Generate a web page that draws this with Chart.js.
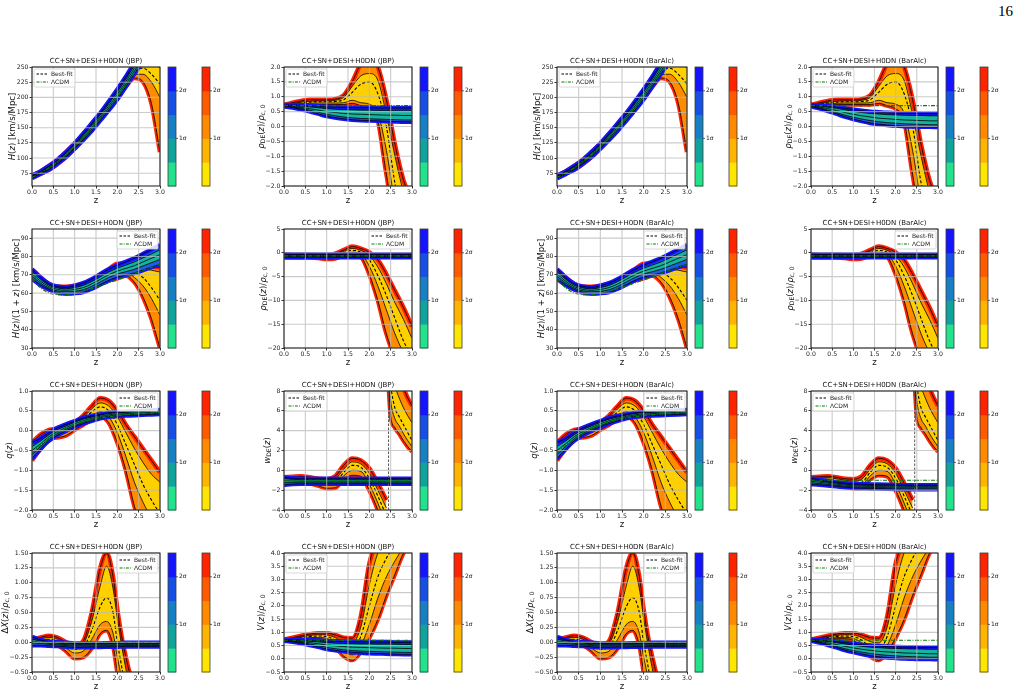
<!DOCTYPE html>
<html>
<head>
<meta charset="utf-8">
<title>Reconstruction panels</title>
<script src="https://cdn.jsdelivr.net/npm/chart.js@4.4.1/dist/chart.umd.min.js"></script>
<style>
  html, body { margin: 0; padding: 0; background: #fff; }
  #page { position: relative; width: 1021px; height: 697px; overflow: hidden; background: #fff; }
  #pnum { position: absolute; right: 8px; top: 3px; font: 15px 'Liberation Serif', 'DejaVu Serif', serif; color: #000; }
  #page canvas { position: absolute; }
</style>
</head>
<body>
<div id="page"><div id="pnum">16</div></div>
<script>
// ---------- redshift grids ----------
const zGrid = [0, 0.2, 0.4, 0.6, 0.8, 1.0, 1.2, 1.4, 1.6, 1.8, 2.0, 2.2, 2.4, 2.6, 2.8, 3.0];
const zLow = [0, 0.2, 0.4, 0.6, 0.8, 1.0, 1.2, 1.4, 1.6, 1.8, 2.0, 2.2, 2.4];
const zHigh = [2.46, 2.5, 2.6, 2.7, 2.8, 2.9, 3.0];
const zDx = [0, 0.2, 0.4, 0.6, 0.8, 1.0, 1.2, 1.4, 1.6, 1.75, 1.9, 2.0, 2.1, 2.2, 2.3, 2.4];
const zPole = [2.45, 2.45];
const wPoleY = [-4, 8];

// ---------- tick labels ----------
const xTicks = [0, 0.5, 1, 1.5, 2, 2.5, 3];
const hTicks = [75, 100, 125, 150, 175, 200, 225, 250];
const rhoTicks = [-2, -1.5, -1, -0.5, 0, 0.5, 1, 1.5, 2];
const hzTicks = [30, 40, 50, 60, 70, 80, 90];
const rho2Ticks = [-20, -15, -10, -5, 0, 5];
const qTicks = [-2, -1.5, -1, -0.5, 0, 0.5, 1];
const wTicks = [-4, -2, 0, 2, 4, 6, 8];
const dxTicks = [-0.5, -0.25, 0, 0.25, 0.5, 0.75, 1, 1.25, 1.5];
const vTicks = [-0.5, 0, 0.5, 1, 1.5, 2, 2.5, 3, 3.5, 4];

// ---------- H(z) ----------
const hBlueHi2 = [71, 78, 87, 97, 110, 124, 140, 157, 174, 193, 213, 234, 257, 280, 302, 327];
const hBlueHi1 = [70, 77, 85.5, 95.5, 108, 122, 137.5, 154, 171, 189.5, 209, 230, 252.5, 275, 297, 321];
const hBlueMid = [69, 76, 84, 94, 106, 120, 135, 151, 168, 186, 205, 226, 248, 270, 292, 315];
const hBlueLo1 = [68, 75, 82.5, 92.5, 104, 118, 132.5, 148, 165, 182.5, 201, 222, 243.5, 265, 287, 309];
const hBlueLo2 = [67, 74, 81, 91, 102, 116, 130, 145, 162, 179, 197, 218, 239, 260, 282, 303];
const hOrHi2 = [71, 78, 87, 97.5, 110, 124, 139, 155, 172, 191, 211, 232, 253, 262, 265, 265];
const hOrHi1 = [70, 77, 85.5, 96, 108, 122, 137, 153, 170, 188.5, 208, 229, 248, 254, 252, 250];
const hOrMid = [69, 76, 84, 94, 106, 120, 135, 151, 168, 186, 205, 226, 244, 248, 238, 222];
const hOrLo1 = [68, 75, 82.5, 92, 104, 118, 133, 149, 166, 183.5, 202, 222, 238, 238, 225, 200];
const hOrLo2 = [67, 74, 81, 90.5, 102, 116, 131, 147, 164, 181, 199, 218, 232, 226, 190, 110];
const hLcdm = [68, 75.1, 83.9, 94.4, 106.4, 119.7, 134.2, 149.7, 166.2, 183.6, 201.7, 220.7, 240.3, 260.7, 281.7, 303.3];

// ---------- rho_DE (top row) ----------
const rhoBlueHi2 = [0.72, 0.72, 0.71, 0.7, 0.68, 0.66, 0.65, 0.64, 0.63, 0.63, 0.63, 0.62, 0.62, 0.62, 0.62, 0.62];
const rhoBlueHi1 = [0.71, 0.7, 0.68, 0.66, 0.63, 0.6, 0.58, 0.57, 0.56, 0.55, 0.55, 0.54, 0.54, 0.53, 0.53, 0.53];
const rhoBlueMid = [0.7, 0.68, 0.64, 0.6, 0.55, 0.5, 0.47, 0.44, 0.42, 0.41, 0.4, 0.39, 0.38, 0.38, 0.37, 0.37];
const rhoBlueLo1 = [0.69, 0.66, 0.61, 0.55, 0.48, 0.41, 0.36, 0.32, 0.29, 0.27, 0.26, 0.25, 0.24, 0.23, 0.22, 0.22];
const rhoBlueLo2 = [0.68, 0.64, 0.58, 0.51, 0.43, 0.35, 0.3, 0.26, 0.23, 0.21, 0.2, 0.19, 0.18, 0.17, 0.16, 0.16];
const rhoBBlueHi2 = [0.72, 0.71, 0.68, 0.65, 0.61, 0.57, 0.53, 0.5, 0.48, 0.46, 0.45, 0.44, 0.44, 0.43, 0.43, 0.43];
const rhoBBlueHi1 = [0.71, 0.69, 0.65, 0.61, 0.56, 0.51, 0.47, 0.44, 0.42, 0.4, 0.39, 0.38, 0.37, 0.37, 0.36, 0.36];
const rhoBBlueMid = [0.7, 0.66, 0.6, 0.54, 0.47, 0.41, 0.36, 0.32, 0.28, 0.26, 0.24, 0.22, 0.21, 0.2, 0.19, 0.19];
const rhoBBlueLo1 = [0.69, 0.63, 0.55, 0.47, 0.38, 0.31, 0.25, 0.2, 0.16, 0.13, 0.11, 0.09, 0.08, 0.07, 0.06, 0.06];
const rhoBBlueLo2 = [0.68, 0.61, 0.52, 0.43, 0.33, 0.25, 0.18, 0.12, 0.08, 0.05, 0.03, 0.01, 0, -0.01, -0.01, -0.02];
const rhoOrHi2 = [0.72, 0.8, 0.86, 0.9, 0.9, 0.9, 0.92, 1.05, 1.5, 2.1, 2.3, 2.0, 0.9, -0.6, -1.8, -2.5];
const rhoOrHi1 = [0.71, 0.77, 0.82, 0.85, 0.86, 0.86, 0.88, 0.98, 1.35, 1.7, 1.78, 1.55, 0.4, -1.0, -2.2, -3];
const rhoOrMid = [0.7, 0.75, 0.79, 0.82, 0.83, 0.83, 0.84, 0.9, 1.15, 1.42, 1.5, 1.1, 0.0, -1.9, -3, -3];
const rhoOrLo1 = [0.69, 0.73, 0.76, 0.78, 0.79, 0.79, 0.79, 0.8, 0.88, 0.8, 0.75, 0.45, -0.8, -2.5, -3, -3];
const rhoOrLo2 = [0.68, 0.71, 0.73, 0.74, 0.74, 0.74, 0.74, 0.74, 0.78, 0.7, 0.6, 0.2, -1.6, -3, -3, -3];
const rhoLcdm = [0.7, 0.7, 0.7, 0.7, 0.7, 0.7, 0.7, 0.7, 0.7, 0.7, 0.7, 0.7, 0.7, 0.7, 0.7, 0.7];

// ---------- H(z)/(1+z) ----------
const hzBlueHi2 = [73, 68.5, 65, 63.6, 63.1, 64, 65.4, 67.6, 70.3, 73, 75.2, 77.1, 79, 81.4, 83.8, 86.2];
const hzBlueHi1 = [71.7, 67.5, 64.3, 62.8, 62.3, 63, 64.2, 66.3, 68.9, 71.5, 73.6, 75.3, 77, 79.2, 81.4, 83.6];
const hzBlueMid = [70.5, 66.5, 63.5, 62, 61.5, 62, 63, 65, 67.5, 70, 72, 73.5, 75, 77, 79, 81];
const hzBlueLo1 = [69.3, 65.5, 62.7, 61.2, 60.7, 61, 61.8, 63.7, 66.1, 68.5, 70.4, 71.7, 73, 74.8, 76.6, 78.4];
const hzBlueLo2 = [68, 64.5, 62, 60.4, 59.9, 60, 60.6, 62.4, 64.7, 67, 68.8, 69.9, 71, 72.6, 74.2, 75.8];
const hzOrHi2 = [73, 68.5, 65, 63.5, 63.5, 64, 65, 67, 70, 73, 76, 76, 75.5, 75, 74.5, 74];
const hzOrHi1 = [72, 67.5, 64.3, 62.8, 62.5, 63, 64, 66, 68.8, 71.5, 74, 74.8, 73.8, 73.2, 72.5, 71.5];
const hzOrMid = [70.5, 66.5, 63.5, 62, 61.5, 62, 63, 65, 67.5, 70, 72, 73, 71.5, 68.5, 63, 56];
const hzOrLo1 = [69, 65.5, 62.7, 61.2, 60.5, 61, 62, 64, 66.3, 68.5, 70, 71.5, 68.5, 64, 57, 48];
const hzOrLo2 = [68, 64.5, 62, 60.4, 59.7, 60, 61, 62.8, 65, 67, 68, 69.5, 66, 58, 46, 30];
const hzLcdm = [68, 62.6, 59.9, 59.0, 59.1, 59.9, 61, 62.4, 63.9, 65.6, 67.2, 68.9, 70.7, 72.5, 74.1, 75.8];

// ---------- rho_DE (second row) ----------
const rho2BlueHi2 = [-0.3, -0.35, -0.35, -0.35, -0.35, -0.35, -0.35, -0.35, -0.35, -0.35, -0.35, -0.35, -0.35, -0.35, -0.35, -0.35];
const rho2BlueHi1 = [-0.45, -0.5, -0.5, -0.5, -0.5, -0.5, -0.5, -0.5, -0.5, -0.5, -0.5, -0.5, -0.5, -0.5, -0.5, -0.5];
const rho2BlueMid = [-0.6, -0.65, -0.65, -0.65, -0.65, -0.65, -0.65, -0.65, -0.65, -0.65, -0.65, -0.65, -0.65, -0.65, -0.65, -0.65];
const rho2BlueLo1 = [-0.75, -0.8, -0.8, -0.8, -0.8, -0.8, -0.8, -0.8, -0.8, -0.8, -0.8, -0.8, -0.8, -0.8, -0.8, -0.8];
const rho2BlueLo2 = [-0.9, -0.95, -0.95, -0.95, -0.95, -0.95, -0.95, -0.95, -0.95, -0.95, -0.95, -0.95, -0.95, -0.95, -0.95, -0.95];
const rho2OrHi2 = [-0.4, -0.4, -0.4, -0.4, -0.5, -0.6, -0.2, 0.6, 1.3, 0.9, 0.1, -1.5, -4.5, -8, -11.5, -15.5];
const rho2OrHi1 = [-0.55, -0.55, -0.55, -0.55, -0.65, -0.8, -0.45, 0.3, 0.9, 0.5, -0.6, -3, -6.5, -10.5, -14, -18];
const rho2OrMid = [-0.7, -0.7, -0.7, -0.7, -0.8, -0.95, -0.7, 0, 0.5, 0.1, -1.5, -4.8, -9, -13.8, -18.5, -22];
const rho2OrLo1 = [-0.85, -0.85, -0.85, -0.85, -0.95, -1.1, -0.95, -0.3, 0.1, -0.3, -2.8, -7, -12, -17, -21, -24];
const rho2OrLo2 = [-1.0, -1.0, -1.0, -1.0, -1.1, -1.3, -1.2, -0.6, -0.3, -0.8, -4.5, -10, -17, -22, -25, -25];
const rho2Lcdm = [-0.65, -0.65, -0.65, -0.65, -0.65, -0.65, -0.65, -0.65, -0.65, -0.65, -0.65, -0.65, -0.65, -0.65, -0.65, -0.65];

// ---------- q(z) ----------
const qBlueHi2 = [-0.3, -0.2, -0.05, 0.07, 0.16, 0.24, 0.32, 0.37, 0.41, 0.45, 0.47, 0.48, 0.49, 0.5, 0.51, 0.52];
const qBlueHi1 = [-0.4, -0.26, -0.1, 0.03, 0.12, 0.21, 0.29, 0.34, 0.39, 0.43, 0.45, 0.46, 0.47, 0.48, 0.49, 0.5];
const qBlueMid = [-0.5, -0.33, -0.15, -0.02, 0.08, 0.17, 0.25, 0.31, 0.36, 0.4, 0.42, 0.43, 0.44, 0.45, 0.46, 0.47];
const qBlueLo1 = [-0.6, -0.4, -0.2, -0.07, 0.04, 0.13, 0.21, 0.28, 0.33, 0.37, 0.39, 0.4, 0.41, 0.42, 0.43, 0.44];
const qBlueLo2 = [-0.7, -0.46, -0.25, -0.11, 0.0, 0.1, 0.18, 0.25, 0.31, 0.35, 0.37, 0.38, 0.39, 0.4, 0.41, 0.42];
const qOrHi2 = [-0.3, -0.1, 0.02, 0.05, 0.08, 0.2, 0.38, 0.62, 0.82, 0.75, 0.5, 0.15, -0.15, -0.45, -0.75, -1.05];
const qOrHi1 = [-0.4, -0.17, -0.02, 0.0, 0.04, 0.17, 0.33, 0.55, 0.7, 0.62, 0.35, -0.05, -0.45, -0.8, -1.1, -1.3];
const qOrMid = [-0.5, -0.25, -0.07, -0.05, 0.0, 0.13, 0.28, 0.47, 0.6, 0.5, 0.15, -0.35, -0.85, -1.35, -1.75, -2.1];
const qOrLo1 = [-0.6, -0.33, -0.13, -0.1, -0.05, 0.08, 0.22, 0.38, 0.48, 0.35, -0.05, -0.65, -1.3, -1.8, -2.2, -2.5];
const qOrLo2 = [-0.75, -0.45, -0.2, -0.17, -0.12, 0.02, 0.15, 0.28, 0.35, 0.2, -0.3, -1.0, -1.9, -2.5, -2.8, -3];
const qLcdm = [-0.55, -0.37, -0.19, -0.04, 0.07, 0.16, 0.23, 0.28, 0.32, 0.35, 0.38, 0.40, 0.42, 0.43, 0.44, 0.45];

// ---------- w_DE(z) ----------
const wBlueHi2 = [-0.7, -0.8, -0.85, -0.85, -0.85, -0.85, -0.85, -0.85, -0.85, -0.85, -0.85, -0.85, -0.85, -0.85, -0.85, -0.85];
const wBlueHi1 = [-0.85, -0.92, -0.95, -0.95, -0.95, -0.95, -0.95, -0.95, -0.95, -0.95, -0.95, -0.95, -0.95, -0.95, -0.95, -0.95];
const wBlueMid = [-1.05, -1.08, -1.1, -1.1, -1.1, -1.1, -1.1, -1.1, -1.1, -1.1, -1.1, -1.1, -1.1, -1.1, -1.1, -1.1];
const wBlueLo1 = [-1.25, -1.24, -1.25, -1.25, -1.25, -1.25, -1.25, -1.25, -1.25, -1.25, -1.25, -1.25, -1.25, -1.25, -1.25, -1.25];
const wBlueLo2 = [-1.45, -1.38, -1.35, -1.35, -1.35, -1.35, -1.35, -1.35, -1.35, -1.35, -1.35, -1.35, -1.35, -1.35, -1.35, -1.35];
const wBBlueHi2 = [-0.8, -0.95, -1.1, -1.2, -1.3, -1.35, -1.4, -1.42, -1.44, -1.46, -1.48, -1.5, -1.5, -1.5, -1.5, -1.5];
const wBBlueHi1 = [-0.95, -1.07, -1.2, -1.3, -1.4, -1.45, -1.5, -1.52, -1.54, -1.56, -1.58, -1.6, -1.6, -1.6, -1.6, -1.6];
const wBBlueMid = [-1.1, -1.2, -1.3, -1.4, -1.5, -1.55, -1.6, -1.62, -1.64, -1.66, -1.68, -1.7, -1.7, -1.7, -1.7, -1.7];
const wBBlueLo1 = [-1.25, -1.33, -1.42, -1.5, -1.6, -1.66, -1.7, -1.72, -1.74, -1.76, -1.78, -1.8, -1.8, -1.8, -1.8, -1.8];
const wBBlueLo2 = [-1.4, -1.45, -1.52, -1.6, -1.7, -1.76, -1.8, -1.82, -1.84, -1.86, -1.88, -1.9, -1.9, -1.9, -1.9, -1.9];
const wOrLowHi2 = [-0.7, -0.65, -0.6, -0.7, -0.85, -0.9, -0.6, 0.5, 1.2, 1.0, 0.2, -1.3, -3.0];
const wOrLowHi1 = [-0.85, -0.8, -0.75, -0.85, -1.0, -1.1, -0.9, 0.1, 0.85, 0.65, -0.3, -2.0, -3.8];
const wOrLowMid = [-1.0, -0.95, -0.9, -1.0, -1.15, -1.3, -1.2, -0.2, 0.5, 0.3, -0.8, -2.6, -4.6];
const wOrLowLo1 = [-1.15, -1.1, -1.05, -1.15, -1.35, -1.5, -1.45, -0.55, 0.0, -0.1, -1.4, -3.3, -5.5];
const wOrLowLo2 = [-1.3, -1.25, -1.2, -1.3, -1.55, -1.8, -1.75, -0.9, -0.5, -0.6, -2.0, -4.0, -6.5];
const wOrHighHi2 = [12, 12, 11, 9.5, 8.3, 7.3, 6.5];
const wOrHighHi1 = [11, 10.5, 8.5, 7.3, 6.3, 5.5, 4.8];
const wOrHighMid = [10, 8.5, 6.3, 5.4, 4.6, 3.8, 3.0];
const wOrHighLo1 = [9, 7, 5.2, 4.5, 3.7, 3.0, 2.4];
const wOrHighLo2 = [8, 5.5, 4.3, 3.7, 3.0, 2.4, 1.9];
const wLcdm = [-1, -1, -1, -1, -1, -1, -1, -1, -1, -1, -1, -1, -1, -1, -1, -1];

// ---------- Delta X(z) ----------
const dxBlueHi2 = [0.09, 0.04, 0.01, 0.0, -0.01, -0.02, -0.02, -0.02, -0.02, -0.015, -0.015, -0.01, -0.01, -0.01, -0.01, -0.01];
const dxBlueHi1 = [0.05, 0.02, 0.0, -0.015, -0.025, -0.035, -0.035, -0.035, -0.035, -0.03, -0.03, -0.025, -0.025, -0.025, -0.025, -0.025];
const dxBlueMid = [0.02, 0.0, -0.02, -0.03, -0.04, -0.05, -0.05, -0.05, -0.05, -0.045, -0.045, -0.04, -0.04, -0.04, -0.04, -0.04];
const dxBlueLo1 = [-0.01, -0.02, -0.035, -0.045, -0.055, -0.065, -0.065, -0.065, -0.065, -0.06, -0.06, -0.055, -0.055, -0.055, -0.055, -0.055];
const dxBlueLo2 = [-0.05, -0.05, -0.06, -0.065, -0.075, -0.085, -0.085, -0.08, -0.08, -0.075, -0.075, -0.07, -0.07, -0.07, -0.07, -0.07];
const dxOrHi2 = [0.04, 0.08, 0.11, 0.08, 0.0, -0.05, 0.02, 0.5, 1.25, 1.5, 1.1, 0.55, 0.1, -0.25, -0.55, -0.8];
const dxOrHi1 = [0.02, 0.06, 0.08, 0.05, -0.03, -0.09, -0.03, 0.35, 0.95, 1.28, 0.9, 0.4, -0.05, -0.45, -0.8, -1.0];
const dxOrMid = [0.0, 0.03, 0.05, 0.03, -0.05, -0.12, -0.08, 0.2, 0.6, 0.75, 0.5, 0.0, -0.4, -0.8, -1.1, -1.3];
const dxOrLo1 = [-0.02, 0.0, 0.02, -0.01, -0.1, -0.18, -0.15, 0.05, 0.3, 0.35, 0.15, -0.25, -0.6, -1.0, -1.3, -1.5];
const dxOrLo2 = [-0.04, -0.03, -0.02, -0.05, -0.15, -0.27, -0.25, -0.1, 0.15, 0.2, -0.05, -0.5, -0.9, -1.2, -1.5, -1.7];
const dxLcdm = [0, 0, 0, 0, 0, 0, 0, 0, 0, 0, 0, 0, 0, 0, 0, 0];

// ---------- V(z) ----------
const vBlueHi2 = [0.72, 0.72, 0.71, 0.7, 0.69, 0.67, 0.66, 0.65, 0.64, 0.64, 0.63, 0.63, 0.63, 0.62, 0.62, 0.62];
const vBlueHi1 = [0.71, 0.7, 0.68, 0.66, 0.64, 0.61, 0.59, 0.58, 0.57, 0.56, 0.56, 0.55, 0.55, 0.55, 0.54, 0.54];
const vBlueMid = [0.7, 0.68, 0.65, 0.61, 0.57, 0.52, 0.49, 0.46, 0.44, 0.43, 0.42, 0.41, 0.4, 0.4, 0.39, 0.39];
const vBlueLo1 = [0.69, 0.66, 0.62, 0.56, 0.5, 0.43, 0.38, 0.34, 0.31, 0.29, 0.28, 0.27, 0.26, 0.25, 0.24, 0.24];
const vBlueLo2 = [0.68, 0.64, 0.59, 0.52, 0.45, 0.37, 0.32, 0.28, 0.25, 0.23, 0.21, 0.2, 0.19, 0.18, 0.17, 0.17];
const vOrHi2 = [0.72, 0.8, 0.87, 0.93, 0.97, 0.97, 0.9, 0.8, 0.78, 1.6, 3.6, 4.5, 5, 5, 5, 5];
const vOrHi1 = [0.71, 0.77, 0.83, 0.88, 0.91, 0.9, 0.8, 0.65, 0.6, 1.2, 2.8, 4.0, 4.5, 5, 5, 5];
const vOrMid = [0.7, 0.75, 0.8, 0.84, 0.86, 0.84, 0.7, 0.45, 0.35, 0.85, 2.0, 3.1, 3.8, 4.3, 4.6, 4.8];
const vOrLo1 = [0.69, 0.73, 0.77, 0.8, 0.81, 0.77, 0.6, 0.3, 0.15, 0.5, 1.3, 2.3, 3.1, 3.7, 4.2, 4.5];
const vOrLo2 = [0.68, 0.71, 0.74, 0.76, 0.76, 0.7, 0.45, 0.1, -0.05, 0.25, 0.8, 1.5, 2.4, 3.2, 4.0, 4.4];
const vLcdm = [0.7, 0.7, 0.7, 0.7, 0.7, 0.7, 0.7, 0.7, 0.7, 0.7, 0.7, 0.7, 0.7, 0.7, 0.7, 0.7];

// ---------- text ----------
const TITLE_JBP = 'CC+SN+DESI+H0DN (JBP)';
const TITLE_BA = 'CC+SN+DESI+H0DN (BarAlc)';
// [text, style]  style: i = italic, s = subscript
const LBL_H = [['H', 'i'], ['('], ['z', 'i'], [') [km/s/Mpc]']];
const LBL_RHO = [['ρ', 'i'], ['DE', 's'], ['('], ['z', 'i'], [')/'], ['ρ', 'i'], ['c, 0', 's']];
const LBL_HZ = [['H', 'i'], ['('], ['z', 'i'], [')/(1 + '], ['z', 'i'], [') [km/s/Mpc]']];
const LBL_Q = [['q', 'i'], ['('], ['z', 'i'], [')']];
const LBL_W = [['w', 'i'], ['DE', 's'], ['('], ['z', 'i'], [')']];
const LBL_DX = [['Δ'], ['X', 'i'], ['('], ['z', 'i'], [')/'], ['ρ', 'i'], ['c, 0', 's']];
const LBL_V = [['V', 'i'], ['('], ['z', 'i'], [')/'], ['ρ', 'i'], ['c, 0', 's']];

// ---------- layout (pixels) ----------
const PLOT_LEFT = [32, 284, 557, 811];
const PLOT_TOP = [67, 229, 391, 553];
const PLOT_W = [128, 128, 130, 127];
const PLOT_H = 119;
const AXW = 34, TOPH = 12, BOTH = 24, RIGHTW = 62;
const FONT = "'DejaVu Sans', sans-serif";

const ORANGE = { edge: '#ff2200', outer: '#ff8c00', inner: '#ffd000', dash: true };
const BLUE = { edge: '#1414ff', outer: '#1f5ee0', inner: '#14b5a0', dash: false };
const BLUE_STEPS = ['#22e38c', '#0fa39b', '#1780c4', '#164fe4', '#1414ff'];
const ORANGE_STEPS = ['#ffe600', '#ffb400', '#ff8a00', '#ff5a00', '#ff2400'];

const band = (z, hi2, hi1, mid, lo1, lo2) => ({ z, hi2, hi1, mid, lo1, lo2 });

const hOr = band(zGrid, hOrHi2, hOrHi1, hOrMid, hOrLo1, hOrLo2);
const hBlue = band(zGrid, hBlueHi2, hBlueHi1, hBlueMid, hBlueLo1, hBlueLo2);
const rhoOr = band(zGrid, rhoOrHi2, rhoOrHi1, rhoOrMid, rhoOrLo1, rhoOrLo2);
const rhoBlue = band(zGrid, rhoBlueHi2, rhoBlueHi1, rhoBlueMid, rhoBlueLo1, rhoBlueLo2);
const rhoBBlue = band(zGrid, rhoBBlueHi2, rhoBBlueHi1, rhoBBlueMid, rhoBBlueLo1, rhoBBlueLo2);
const hzOr = band(zGrid, hzOrHi2, hzOrHi1, hzOrMid, hzOrLo1, hzOrLo2);
const hzBlue = band(zGrid, hzBlueHi2, hzBlueHi1, hzBlueMid, hzBlueLo1, hzBlueLo2);
const rho2Or = band(zGrid, rho2OrHi2, rho2OrHi1, rho2OrMid, rho2OrLo1, rho2OrLo2);
const rho2Blue = band(zGrid, rho2BlueHi2, rho2BlueHi1, rho2BlueMid, rho2BlueLo1, rho2BlueLo2);
const qOr = band(zGrid, qOrHi2, qOrHi1, qOrMid, qOrLo1, qOrLo2);
const qBlue = band(zGrid, qBlueHi2, qBlueHi1, qBlueMid, qBlueLo1, qBlueLo2);
const wOrLow = band(zLow, wOrLowHi2, wOrLowHi1, wOrLowMid, wOrLowLo1, wOrLowLo2);
const wOrHigh = band(zHigh, wOrHighHi2, wOrHighHi1, wOrHighMid, wOrHighLo1, wOrHighLo2);
const wBlue = band(zGrid, wBlueHi2, wBlueHi1, wBlueMid, wBlueLo1, wBlueLo2);
const wBBlue = band(zGrid, wBBlueHi2, wBBlueHi1, wBBlueMid, wBBlueLo1, wBBlueLo2);
const dxOr = band(zDx, dxOrHi2, dxOrHi1, dxOrMid, dxOrLo1, dxOrLo2);
const dxBlue = band(zGrid, dxBlueHi2, dxBlueHi1, dxBlueMid, dxBlueLo1, dxBlueLo2);
const vOr = band(zGrid, vOrHi2, vOrHi1, vOrMid, vOrLo1, vOrLo2);
const vBlue = band(zGrid, vBlueHi2, vBlueHi1, vBlueMid, vBlueLo1, vBlueLo2);

const panels = [
  { row: 0, col: 0, title: TITLE_JBP, label: LBL_H, y: [54, 250], ticks: hTicks, dec: 0, legend: 'tl', orange: [hOr], blue: [hBlue], lcdm: hLcdm },
  { row: 0, col: 1, title: TITLE_JBP, label: LBL_RHO, y: [-2, 2], ticks: rhoTicks, dec: 1, legend: 'tl', orange: [rhoOr], blue: [rhoBlue], lcdm: rhoLcdm },
  { row: 0, col: 2, title: TITLE_BA, label: LBL_H, y: [54, 250], ticks: hTicks, dec: 0, legend: 'tl', orange: [hOr], blue: [hBlue], lcdm: hLcdm },
  { row: 0, col: 3, title: TITLE_BA, label: LBL_RHO, y: [-2, 2], ticks: rhoTicks, dec: 1, legend: 'tl', orange: [rhoOr], blue: [rhoBBlue], lcdm: rhoLcdm },
  { row: 1, col: 0, title: TITLE_JBP, label: LBL_HZ, y: [30, 95], ticks: hzTicks, dec: 0, legend: 'tr', orange: [hzOr], blue: [hzBlue], lcdm: hzLcdm },
  { row: 1, col: 1, title: TITLE_JBP, label: LBL_RHO, y: [-20, 5], ticks: rho2Ticks, dec: 0, legend: 'tr', orange: [rho2Or], blue: [rho2Blue], lcdm: rho2Lcdm },
  { row: 1, col: 2, title: TITLE_BA, label: LBL_HZ, y: [30, 95], ticks: hzTicks, dec: 0, legend: 'tr', orange: [hzOr], blue: [hzBlue], lcdm: hzLcdm },
  { row: 1, col: 3, title: TITLE_BA, label: LBL_RHO, y: [-20, 5], ticks: rho2Ticks, dec: 0, legend: 'tr', orange: [rho2Or], blue: [rho2Blue], lcdm: rho2Lcdm },
  { row: 2, col: 0, title: TITLE_JBP, label: LBL_Q, y: [-2, 1], ticks: qTicks, dec: 1, legend: 'tr', orange: [qOr], blue: [qBlue], lcdm: qLcdm },
  { row: 2, col: 1, title: TITLE_JBP, label: LBL_W, y: [-4, 8], ticks: wTicks, dec: 0, legend: 'tl', orange: [wOrLow, wOrHigh], blue: [wBlue], lcdm: wLcdm, pole: true },
  { row: 2, col: 2, title: TITLE_BA, label: LBL_Q, y: [-2, 1], ticks: qTicks, dec: 1, legend: 'tr', orange: [qOr], blue: [qBlue], lcdm: qLcdm },
  { row: 2, col: 3, title: TITLE_BA, label: LBL_W, y: [-4, 8], ticks: wTicks, dec: 0, legend: 'tl', orange: [wOrLow, wOrHigh], blue: [wBBlue], lcdm: wLcdm, pole: true },
  { row: 3, col: 0, title: TITLE_JBP, label: LBL_DX, y: [-0.5, 1.5], ticks: dxTicks, dec: 2, legend: 'tr', orange: [dxOr], blue: [dxBlue], lcdm: dxLcdm },
  { row: 3, col: 1, title: TITLE_JBP, label: LBL_V, y: [-0.5, 4], ticks: vTicks, dec: 1, legend: 'tl', orange: [vOr], blue: [vBlue], lcdm: vLcdm },
  { row: 3, col: 2, title: TITLE_BA, label: LBL_DX, y: [-0.5, 1.5], ticks: dxTicks, dec: 2, legend: 'tr', orange: [dxOr], blue: [dxBlue], lcdm: dxLcdm },
  { row: 3, col: 3, title: TITLE_BA, label: LBL_V, y: [-0.5, 4], ticks: vTicks, dec: 1, legend: 'tl', orange: [vOr], blue: [rhoBBlue], lcdm: vLcdm }
];

// ---------- helpers ----------
const xy = (zs, ys) => zs.map((z, i) => ({ x: z, y: ys[i] }));
const fmt = (v, d) => (v < 0 ? '\u2212' : '') + Math.abs(v).toFixed(d);

function addModel(ds, b, pal) {
  const base = { pointRadius: 0, fill: false, cubicInterpolationMode: 'monotone', clip: 0, borderWidth: 1, borderColor: '#000' };
  const push = o => { ds.push(Object.assign({}, base, o)); return ds.length - 1; };
  const lo2 = push({ data: xy(b.z, b.lo2), borderColor: pal.edge, borderWidth: 4.5 });
  push({ data: xy(b.z, b.hi2), borderColor: pal.edge, borderWidth: 4.5, fill: lo2, backgroundColor: pal.outer });
  const lo1 = push({ data: xy(b.z, b.lo1), borderColor: 'rgba(0,0,0,0)' });
  push({ data: xy(b.z, b.hi1), borderColor: 'rgba(0,0,0,0)', fill: lo1, backgroundColor: pal.inner });
  ['lo2', 'hi2', 'lo1', 'hi1'].forEach(k => push({ data: xy(b.z, b[k]), borderWidth: 0.8 }));
  push({ data: xy(b.z, b.mid), borderWidth: pal.dash ? 1.1 : 0.8, borderDash: pal.dash ? [3, 2] : [] });
}

function segFont(s, fs) {
  return (s[1] === 'i' ? 'italic ' : '') + (s[1] === 's' ? fs * 0.72 : fs) + 'px ' + FONT;
}

function drawBar(ctx, x, top, bottom, cols) {
  const h = (bottom - top) / cols.length;
  cols.forEach((c, i) => { ctx.fillStyle = c; ctx.fillRect(x, bottom - (i + 1) * h, 8, h + 0.5); });
  ctx.strokeStyle = '#3a3a3a'; ctx.lineWidth = 0.8;
  ctx.strokeRect(x, top, 8, bottom - top);
  ctx.font = '6px ' + FONT; ctx.fillStyle = '#222'; ctx.textAlign = 'left'; ctx.textBaseline = 'middle';
  [['1σ', 2], ['2σ', 4]].forEach(([t, k]) => {
    const y = bottom - k * h;
    ctx.beginPath(); ctx.moveTo(x + 8, y); ctx.lineTo(x + 10, y); ctx.stroke();
    ctx.fillText(t, x + 11, y);
  });
}

function drawLegend(ctx, a, corner) {
  const w = 41, h = 18;
  const bx = corner === 'tl' ? a.left + 2 : a.right - w - 2, by = a.top + 2;
  ctx.fillStyle = 'rgba(255,255,255,0.85)'; ctx.strokeStyle = '#cfcfcf'; ctx.lineWidth = 0.8;
  ctx.beginPath(); ctx.roundRect(bx, by, w, h, 1.5); ctx.fill(); ctx.stroke();
  ctx.lineWidth = 1;
  ctx.strokeStyle = '#000'; ctx.setLineDash([2.5, 1.5]);
  ctx.beginPath(); ctx.moveTo(bx + 2.5, by + 5); ctx.lineTo(bx + 14, by + 5); ctx.stroke();
  ctx.strokeStyle = '#008000'; ctx.setLineDash([3, 1.2, 1, 1.2]);
  ctx.beginPath(); ctx.moveTo(bx + 2.5, by + 13); ctx.lineTo(bx + 14, by + 13); ctx.stroke();
  ctx.setLineDash([]);
  ctx.fillStyle = '#222'; ctx.font = '6px ' + FONT; ctx.textAlign = 'left'; ctx.textBaseline = 'middle';
  ctx.fillText('Best-fit', bx + 17, by + 5);
  ctx.fillText('ΛCDM', bx + 17, by + 13);
}

// grid above the filled contours, frame, legend, colour bars, title and axis labels
const decor = {
  id: 'decor',
  afterDatasetsDraw(chart) {
    const p = chart.options.plugins.decor;
    const { ctx, chartArea: a } = chart;
    const xs = chart.scales.x, ys = chart.scales.y;
    ctx.save();
    ctx.strokeStyle = 'rgba(185,185,185,0.75)'; ctx.lineWidth = 1.1;
    ctx.beginPath();
    xs.ticks.forEach(t => { const px = xs.getPixelForValue(t.value); ctx.moveTo(px, a.top); ctx.lineTo(px, a.bottom); });
    ys.ticks.forEach(t => { const py = ys.getPixelForValue(t.value); ctx.moveTo(a.left, py); ctx.lineTo(a.right, py); });
    ctx.stroke();
    ctx.strokeStyle = '#000'; ctx.lineWidth = 0.9;
    ctx.strokeRect(a.left, a.top, a.right - a.left, a.bottom - a.top);

    drawLegend(ctx, a, p.legend);
    drawBar(ctx, a.right + 8, a.top, a.bottom, BLUE_STEPS);
    drawBar(ctx, a.right + 42, a.top, a.bottom, ORANGE_STEPS);

    // title centred on the plot area
    ctx.fillStyle = '#111'; ctx.font = '7px ' + FONT; ctx.textAlign = 'center'; ctx.textBaseline = 'middle';
    ctx.fillText(p.title, (a.left + a.right) / 2, a.top - 5.5);

    // x label
    ctx.font = '8.5px ' + FONT;
    ctx.fillText('z', (a.left + a.right) / 2, a.bottom + 14.5);

    // y label, placed left of the widest tick label
    ctx.font = '6.2px ' + FONT;
    let maxW = 0;
    ys.ticks.forEach(t => { maxW = Math.max(maxW, ctx.measureText(fmt(t.value, p.dec)).width); });
    const fs = 8.5;
    let total = 0;
    p.label.forEach(s => { ctx.font = segFont(s, fs); total += ctx.measureText(s[0]).width; });
    ctx.translate(a.left - 2.5 - maxW - 5, (a.top + a.bottom) / 2);
    ctx.rotate(-Math.PI / 2);
    ctx.textAlign = 'left';
    let cx = -total / 2;
    p.label.forEach(s => {
      ctx.font = segFont(s, fs);
      ctx.fillText(s[0], cx, s[1] === 's' ? 2 : 0);
      cx += ctx.measureText(s[0]).width;
    });
    ctx.restore();
  }
};

Chart.defaults.font.family = FONT;
Chart.defaults.color = '#222';

const page = document.getElementById('page');

panels.forEach(p => {
  const w = AXW + PLOT_W[p.col] + RIGHTW, h = TOPH + PLOT_H + BOTH;
  const cv = document.createElement('canvas');
  cv.width = w; cv.height = h;
  cv.style.left = (PLOT_LEFT[p.col] - AXW) + 'px';
  cv.style.top = (PLOT_TOP[p.row] - TOPH) + 'px';
  cv.style.width = w + 'px'; cv.style.height = h + 'px';
  page.appendChild(cv);

  const ds = [];
  p.orange.forEach(b => addModel(ds, b, ORANGE));
  p.blue.forEach(b => addModel(ds, b, BLUE));
  if (p.pole) {
    ds.push({ data: xy(zPole, wPoleY), borderColor: '#555', borderWidth: 1, borderDash: [2.5, 1.5], pointRadius: 0, fill: false, clip: 0 });
  }
  ds.push({ data: xy(zGrid, p.lcdm), borderColor: '#008000', borderWidth: 1.2, borderDash: [4, 1.5, 1, 1.5], pointRadius: 0, fill: false, clip: 0 });
  ds.forEach((d, i) => { d.order = -i; });

  new Chart(cv, {
    type: 'line',
    data: { datasets: ds },
    plugins: [decor],
    options: {
      responsive: false,
      animation: false,
      devicePixelRatio: 1,
      events: [],
      layout: { padding: { left: 0, right: RIGHTW, top: TOPH, bottom: 0 } },
      plugins: {
        legend: { display: false },
        tooltip: { enabled: false },
        title: { display: false },
        decor: { legend: p.legend, label: p.label, dec: p.dec, title: p.title }
      },
      scales: {
        x: {
          type: 'linear', min: 0, max: 3,
          afterBuildTicks: s => { s.ticks = xTicks.map(v => ({ value: v })); },
          afterFit: s => { s.height = BOTH; },
          ticks: { autoSkip: false, maxRotation: 0, padding: 0.5, font: { size: 6.2 }, callback: v => fmt(v, 1) },
          grid: { drawOnChartArea: false, tickLength: 2.5, tickColor: '#000', tickWidth: 0.8 },
          border: { display: false }
        },
        y: {
          type: 'linear', min: p.y[0], max: p.y[1],
          afterBuildTicks: s => { s.ticks = p.ticks.map(v => ({ value: v })); },
          afterFit: s => { s.width = AXW; },
          ticks: { autoSkip: false, padding: 1, font: { size: 6.2 }, callback: v => fmt(v, p.dec) },
          grid: { drawOnChartArea: false, tickLength: 2.5, tickColor: '#000', tickWidth: 0.8 },
          border: { display: false }
        }
      }
    }
  });
});
</script>
</body>
</html>
